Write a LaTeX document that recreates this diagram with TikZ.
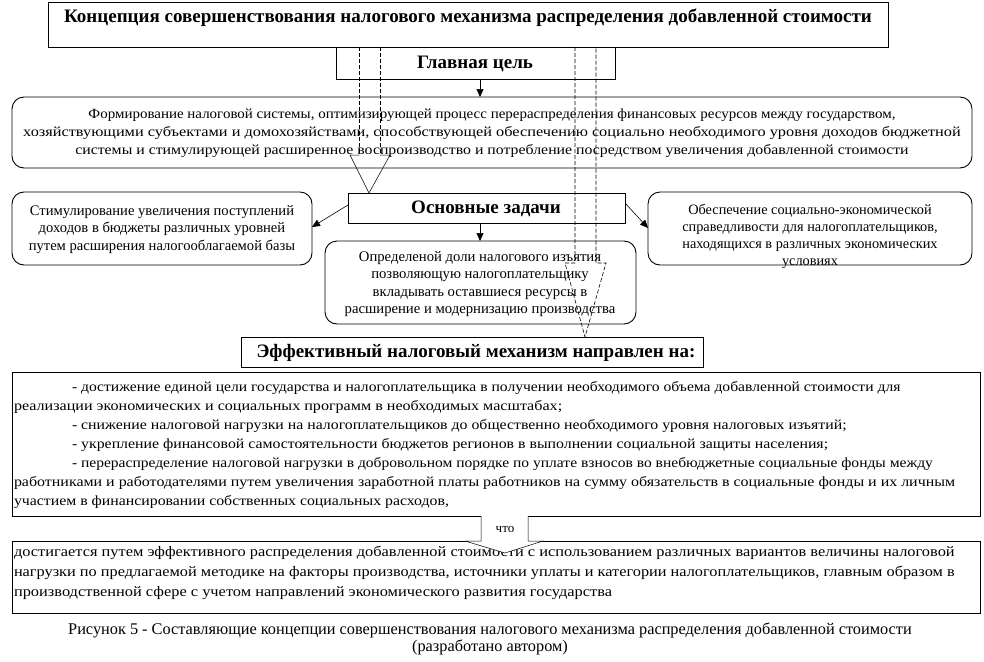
\documentclass[tikz,border=0pt]{standalone}
\usepackage{graphicx}
\usepackage{fontspec}
\setmainfont{Liberation Serif}
\usetikzlibrary{arrows.meta}
\newcommand\sx[2]{\scalebox{#1}[1]{#2}}
\begin{document}
\begin{tikzpicture}[x=1pt,y=-1pt,
  every node/.style={inner sep=0pt, outer sep=0pt},
  frame/.style={draw, line width=0.9pt},
  rframe/.style={draw, line width=0.9pt, rounded corners=12pt},
  body/.style={font=\fontsize{14}{18}\selectfont, align=center},
  small/.style={font=\fontsize{14}{19}\selectfont, align=left},
  head/.style={font=\fontsize{19}{21}\selectfont\bfseries},
  conn/.style={-{Triangle[length=8pt,width=7pt]}, line width=0.6pt},
  dsh/.style={dashed, dash pattern=on 4pt off 2pt, line width=0.6pt},
  thinline/.style={line width=0.5pt},
]
\useasboundingbox[fill=white] (0,0) rectangle (984,661);

% boxes
\node[frame, minimum width=840pt, minimum height=45pt] (title) at (468,25) {};
\node[head] (titletext) at (468,18) {Концепция совершенствования налогового механизма распределения добавленной стоимости};

\node[frame, minimum width=279pt, minimum height=32pt] (goal) at (475.5,63) {};
\node[head] (goaltext) at (475,64) {Главная цель};

\node[rframe, minimum width=960pt, minimum height=71pt] (form) at (492,132.5) {};
\node[body] (formtext) at (492,133) {\sx{1.07}{Формирование налоговой системы, оптимизирующей процесс перераспределения финансовых ресурсов между государством,}\\
\sx{1.165}{хозяйствующими субъектами и домохозяйствами, способствующей обеспечению социально необходимого уровня доходов бюджетной}\\
\sx{1.13}{системы и стимулирующей расширенное воспроизводство и потребление посредством увеличения добавленной стоимости}};

\node[frame, minimum width=277pt, minimum height=30pt] (tasks) at (486.5,208) {};
\node[head] (taskstext) at (486,209) {Основные задачи};

\node[rframe, minimum width=300pt, minimum height=73pt] (left) at (162,228.5) {};
\node[body, font=\fontsize{14.6}{17.5}\selectfont] (lefttext) at (162,229.5) {Стимулирование увеличения поступлений\\доходов в бюджеты различных уровней\\путем расширения налогооблагаемой базы};

\node[rframe, minimum width=324pt, minimum height=73pt] (right) at (810,228.5) {};
\node[body, font=\fontsize{14.3}{17}\selectfont] (righttext) at (810,236) {Обеспечение социально-экономической\\справедливости для налогоплательщиков,\\находящихся в различных экономических\\условиях};

\node[rframe, minimum width=311pt, minimum height=83pt] (mid) at (480.5,282.5) {};
\node[body, font=\fontsize{14.7}{17.3}\selectfont] (midtext) at (480,284) {Определеной доли налогового изъятия\\позволяющую налогоплательщику\\вкладывать оставшиеся ресурсы в\\расширение и модернизацию производства};

\node[frame, minimum width=462pt, minimum height=30pt] (eff) at (472,352) {};
\node[head] (efftext) at (476,353) {Эффективный налоговый механизм направлен на:};

\node[frame, minimum width=968pt, minimum height=144pt] (list) at (496,444) {};
\node[small, anchor=west] (listtext) at (14,444.5) {\hspace*{58pt}\sx{1.115}{- достижение единой цели государства и налогоплательщика в получении необходимого объема добавленной стоимости для}\\
\sx{1.15}{реализации экономических и социальных программ в необходимых масштабах;}\\
\hspace*{58pt}\sx{1.13}{- снижение налоговой нагрузки на налогоплательщиков до общественно необходимого уровня налоговых изъятий;}\\
\hspace*{58pt}\sx{1.13}{- укрепление финансовой самостоятельности бюджетов регионов в выполнении социальной защиты населения;}\\
\hspace*{58pt}\sx{1.11}{- перераспределение налоговой нагрузки в добровольном порядке по уплате взносов во внебюджетные социальные фонды между}\\
\sx{1.14}{работниками и работодателями путем увеличения заработной платы работников на сумму обязательств в социальные фонды и их личным}\\
\sx{1.13}{участием в финансировании собственных социальных расходов,}};

\node[frame, minimum width=968pt, minimum height=72pt] (result) at (496,577) {};
\node[small, font=\fontsize{14.5}{20}\selectfont, anchor=west] (resulttext) at (14,573) {\sx{1.13}{достигается путем эффективного распределения добавленной стоимости с использованием различных вариантов величины налоговой}\\
\sx{1.125}{нагрузки по предлагаемой методике на факторы производства, источники уплаты и категории налогоплательщиков, главным образом в}\\
\sx{1.13}{производственной сфере с учетом направлений экономического развития государства}};

% caption
\node[font=\fontsize{16.3}{18}\selectfont] (cap1) at (490,630) {Рисунок 5 - Составляющие концепции совершенствования налогового механизма распределения добавленной стоимости};
\node[font=\fontsize{16.3}{18}\selectfont] (cap2) at (490,647) {(разработано автором)};

% solid connectors
\draw[conn] (goal.south -| 480,0) -- (form.north -| 480,0);
\draw[conn] (tasks.west |- 0,205) -- (left.east |- 0,227);
\draw[conn] (tasks.east |- 0,203) -- (right.west |- 0,228);
\draw[conn] (tasks.south -| 480,0) -- (mid.north -| 480,0);

% dashed block arrows from the title
\draw[dsh] (359,47) -- (359,155);
\draw[dsh] (380,47) -- (380,155);
\draw[thinline] (359,155) -- (350,155) -- (369,193) -- (390,155) -- (380,155);
\draw[dsh] (575,47) -- (575,263) -- (565,263) -- (585,337) -- (606,263) -- (596,263) -- (596,47);

% "что" block arrow
\draw[thinline, fill=white] (481,516) -- (481,541) -- (465,541) -- (505,553) -- (543,541) -- (528,541) -- (528,516);
\node[font=\fontsize{13}{14}\selectfont] (chto) at (505,529) {что};
\end{tikzpicture}
\end{document}
